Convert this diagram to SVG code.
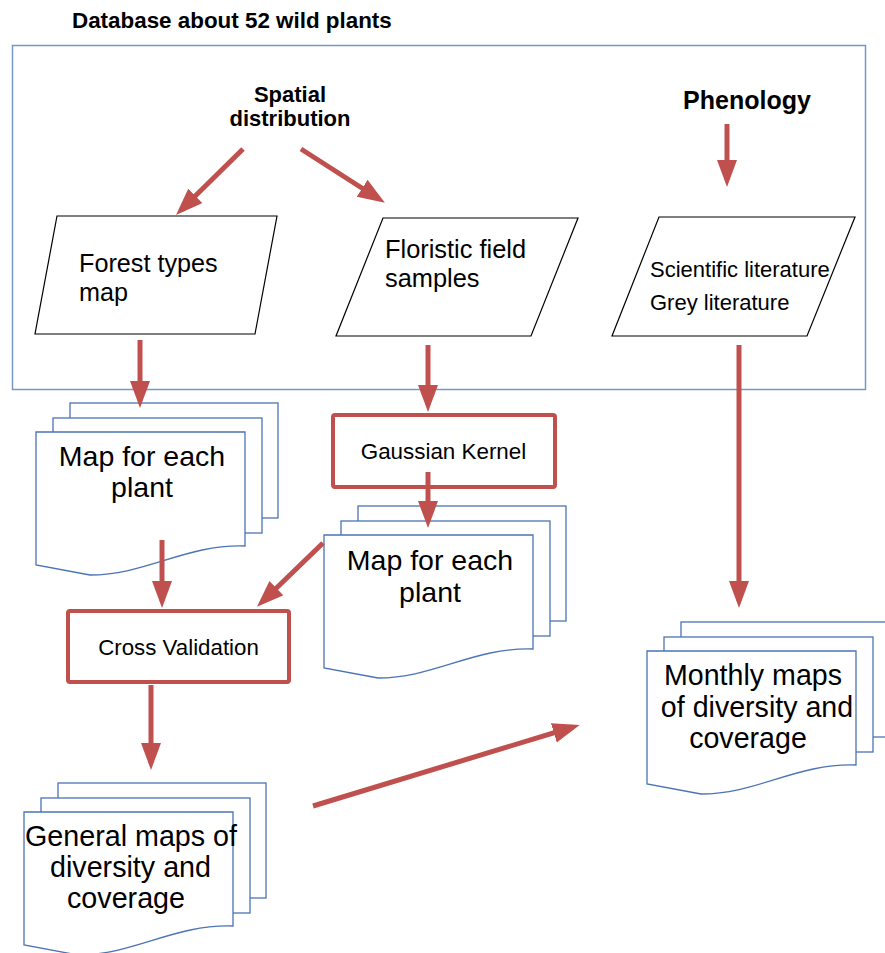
<svg xmlns="http://www.w3.org/2000/svg" width="885" height="953" viewBox="0 0 885 953">
<style>
  text { font-family: "Liberation Sans", Arial, sans-serif; fill: #000; }
  .b { font-weight: bold; }
  .para { fill: #fff; stroke: #000; stroke-width: 1.2; }
  .doc { fill: #fff; stroke: #4a74b5; stroke-width: 1.3; }
  .proc { fill: #fff; stroke: #c0504d; stroke-width: 4; }
  .arr { stroke: #c0504d; stroke-width: 5; fill: none; marker-end: url(#ah); }
  .mid { text-anchor: middle; }
</style>
<defs>
  <marker id="ah" markerUnits="userSpaceOnUse" markerWidth="28" markerHeight="22" refX="20" refY="10" orient="auto" viewBox="0 0 28 22">
    <path d="M0,0 L27,10 L0,20 Z" fill="#c0504d"/>
  </marker>
  <g id="mdoc">
    <rect class="doc" x="34" y="-29" width="208" height="115"/>
    <rect class="doc" x="17" y="-14" width="209" height="115"/>
    <path class="doc" d="M0,0 H209 V114 C150,112 110,143 54,143 L0,133 Z"/>
  </g>
</defs>
<rect width="885" height="953" fill="#fff"/>

<g id="database">
  <text class="b" x="72" y="28" font-size="22.4">Database about 52 wild plants</text>
  <rect x="12.5" y="45.5" width="853" height="344" fill="none" stroke="#7a96c8" stroke-width="1.5"/>
</g>

<g id="spatial-distribution">
  <text class="b mid" x="290" y="102" font-size="22">Spatial</text>
  <text class="b mid" x="290" y="126" font-size="22">distribution</text>
</g>

<g id="phenology">
  <text class="b mid" x="747" y="109" font-size="25">Phenology</text>
</g>

<g id="forest-types-map">
  <polygon class="para" points="57,216 277,216 255,334 35,334"/>
  <text x="79" y="272" font-size="25.2">Forest types</text>
  <text x="79" y="301" font-size="25.2">map</text>
</g>

<g id="floristic-field-samples">
  <polygon class="para" points="383,218 578,218 531,336 336,336"/>
  <text x="385" y="258" font-size="25.4">Floristic field</text>
  <text x="385" y="287" font-size="25.4">samples</text>
</g>

<g id="literature">
  <polygon class="para" points="659,217 855,217 807,336 612,336"/>
  <text x="650" y="277" font-size="22">Scientific literature</text>
  <text x="650" y="310" font-size="22">Grey literature</text>
</g>

<g id="map-each-plant-1">
  <use href="#mdoc" transform="translate(36,432)"/>
  <text class="mid" x="142" y="466" font-size="28.5">Map for each</text>
  <text class="mid" x="142" y="497" font-size="28.5">plant</text>
</g>

<g id="gaussian-kernel">
  <rect class="proc" x="333" y="415" width="222" height="72" rx="2"/>
  <text class="mid" x="443.5" y="459" font-size="22.4">Gaussian Kernel</text>
</g>

<g id="map-each-plant-2">
  <use href="#mdoc" transform="translate(324,535)"/>
  <text class="mid" x="430" y="570" font-size="28.5">Map for each</text>
  <text class="mid" x="430" y="602" font-size="28.5">plant</text>
</g>

<g id="cross-validation">
  <rect class="proc" x="68" y="611" width="221" height="71" rx="2"/>
  <text class="mid" x="178.5" y="655" font-size="22.3">Cross Validation</text>
</g>

<g id="monthly-maps">
  <use href="#mdoc" transform="translate(647,651)"/>
  <text class="mid" x="753" y="685" font-size="28.6">Monthly maps</text>
  <text class="mid" x="757" y="717" font-size="28.6">of diversity and</text>
  <text class="mid" x="748" y="748" font-size="28.6">coverage</text>
</g>

<g id="general-maps">
  <use href="#mdoc" transform="translate(24,812)"/>
  <text class="mid" x="131" y="846" font-size="28.7">General maps of</text>
  <text class="mid" x="130.5" y="877" font-size="28.7">diversity and</text>
  <text class="mid" x="126" y="908" font-size="28.7">coverage</text>
</g>

<g id="connectors">
  <line class="arr" x1="243" y1="149" x2="181" y2="210"/>
  <line class="arr" x1="301" y1="149" x2="379" y2="199"/>
  <line class="arr" x1="727" y1="124" x2="727" y2="180"/>
  <line class="arr" x1="140" y1="340" x2="140" y2="401"/>
  <line class="arr" x1="428" y1="345" x2="428" y2="405"/>
  <line class="arr" x1="428" y1="472" x2="428" y2="521"/>
  <line class="arr" x1="162" y1="540" x2="162" y2="601"/>
  <line class="arr" x1="323" y1="543" x2="262" y2="602"/>
  <line class="arr" x1="151" y1="685" x2="151" y2="763"/>
  <line class="arr" x1="313" y1="806" x2="573" y2="727"/>
  <line class="arr" x1="739" y1="345" x2="739" y2="601"/>
</g>
</svg>
